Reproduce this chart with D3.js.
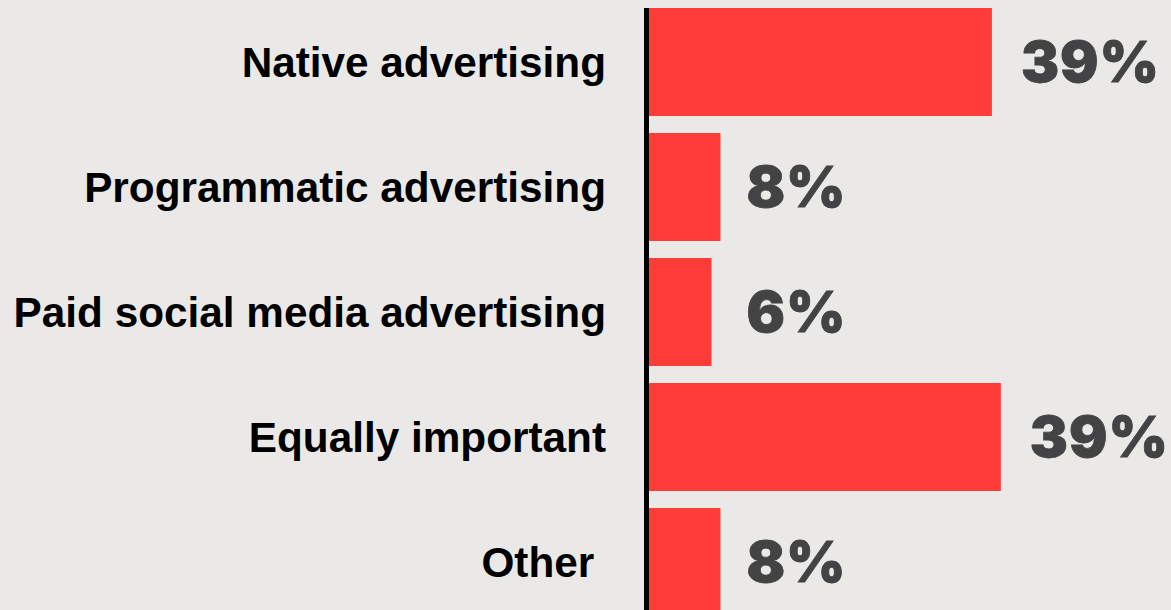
<!DOCTYPE html>
<html>
<head>
<meta charset="utf-8">
<script src="https://cdn.jsdelivr.net/npm/d3@7"></script>
<style>
  html, body { margin: 0; padding: 0; background: #eae9e7; }
  svg { display: block; }
  .cat { font-family: "Liberation Sans", Arial, Helvetica, sans-serif; font-weight: bold; font-size: 42.3px; fill: #000; white-space: pre; }
  .val { font-family: Inter, "Liberation Sans", Arial, sans-serif; font-weight: 900; font-size: 57px; letter-spacing: 1px; fill: #434345; stroke: #434345; stroke-width: 0.8px; }
</style>
</head>
<body>
<div id="chart"></div>
<script>
const categories = ["Native advertising", "Programmatic advertising", "Paid social media advertising", "Equally important", "Other "];
const values = [38.4, 8, 7, 39.4, 8];
const valueLabels = ["39%", "8%", "6%", "39%", "8%"];

const W = 1171, H = 610;
const svg = d3.select("#chart").append("svg")
  .attr("width", W).attr("height", H);

svg.append("rect").attr("width", W).attr("height", H).attr("fill", "#eae9e7");

const x = d3.scaleLinear().domain([0, 40]).range([649, 1006.2]);
const y = d3.scaleBand().domain(categories).range([8, 616]).paddingInner(0.136).paddingOuter(0);

const rows = categories.map((c, i) => ({ c, v: values[i], l: valueLabels[i] }));

svg.selectAll("rect.bar").data(rows).join("rect")
  .attr("class", "bar")
  .attr("x", x(0))
  .attr("y", d => y(d.c))
  .attr("width", d => x(d.v) - x(0))
  .attr("height", y.bandwidth())
  .attr("fill", "#ff3c38");

// axis line
const axis = svg.append("g").attr("transform", `translate(${x(0) - 2.5},0)`)
  .call(d3.axisLeft(y).tickSize(0).tickFormat(""));
axis.select(".domain").attr("stroke", "#000").attr("stroke-width", 5)
  .attr("d", `M0,${y.range()[0]}V${H + 10}`);

svg.selectAll("text.cat").data(rows).join("text")
  .attr("class", "cat")
  .attr("x", 606)
  .attr("y", d => y(d.c) + y.bandwidth() / 2)
  .attr("dy", "0.35em")
  .attr("text-anchor", "end")
  .attr("xml:space", "preserve")
  .text(d => d.c);

// value labels: placed after the bar, never closer to the axis than an 8% bar
const minLabelValue = 8;
svg.selectAll("text.val").data(rows).join("text")
  .attr("class", "val")
  .attr("x", d => x(Math.max(d.v, minLabelValue)) + (d.v > 20 ? 29 : 26))
  .attr("y", d => y(d.c) + y.bandwidth() / 2)
  .attr("dy", "0.355em")
  .text(d => d.l);
</script>
</body>
</html>
